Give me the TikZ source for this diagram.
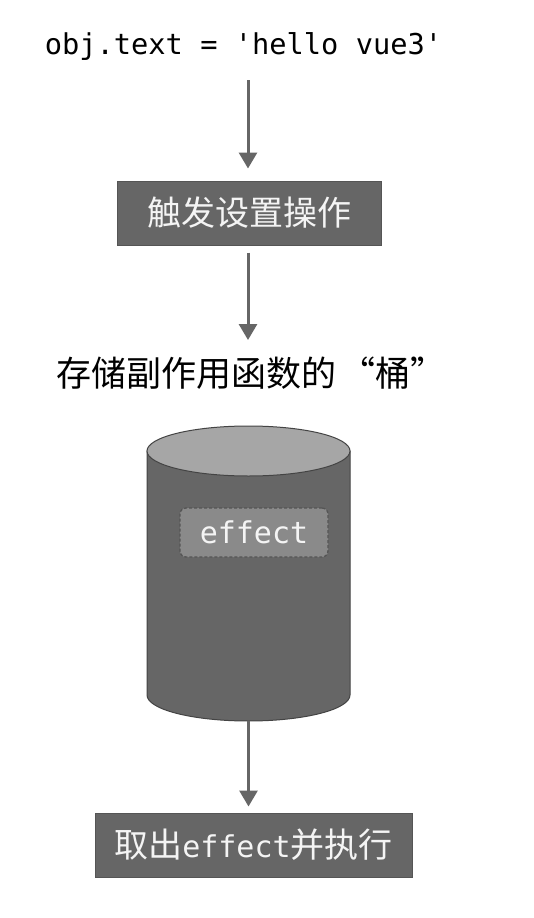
\documentclass[tikz,border=0pt]{standalone}
\usepackage{fontspec}
\setmonofont{DejaVu Sans Mono}
\newfontfamily\cjk{Noto Sans CJK SC}
\usetikzlibrary{arrows.meta}
\definecolor{boxgray}{HTML}{666666}
\definecolor{boxedge}{HTML}{555555}
\definecolor{arrgray}{HTML}{666666}
\definecolor{lidgray}{HTML}{A6A6A6}
\definecolor{cyledge}{HTML}{444444}
\definecolor{effgray}{HTML}{8A8A8A}
\definecolor{efftext}{HTML}{F4F4F4}
\tikzset{
  arr/.style={draw=arrgray, line width=3pt, -{Triangle[width=18pt,length=16pt]}},
  darkbox/.style={draw=boxedge, line width=1pt, fill=boxgray, text=efftext, inner sep=0pt,
    font=\cjk\fontsize{34}{40}\selectfont},
  effbox/.style={draw=boxedge, dashed, dash pattern=on 3pt off 2pt, line width=1.3pt,
    fill=effgray, rounded corners=6pt, text=efftext, inner sep=0pt,
    minimum width=148pt, minimum height=49pt, font=\ttfamily\fontsize{30}{34}\selectfont},
}
\begin{document}
\begin{tikzpicture}[x=1pt,y=-1pt]
\useasboundingbox (0,0) rectangle (534,918);
\fill[white] (0,0) rectangle (534,918);
% title
\node[anchor=base, inner sep=0pt, font=\ttfamily\fontsize{28.7}{32}\selectfont] (title) at (243.5,54) {obj.text = 'hello vue3'};
% box 1
\node[darkbox, minimum width=264pt, minimum height=64pt] (set) at (249,213) {触发设置操作};
% label
\node[inner sep=0pt, font=\cjk\fontsize{35}{40}\selectfont] (label) at (251,373) {存储副作用函数的\kern4pt“桶”};
% cylinder
\coordinate (cyltop) at (248.5,426);
\coordinate (cylbot) at (248.5,721);
\filldraw[fill=boxgray, draw=cyledge, line width=1pt]
  (147,451) -- (147,695) arc[start angle=180, end angle=0, x radius=101.5, y radius=26]
  -- (350,451) -- cycle;
\filldraw[fill=lidgray, draw=cyledge, line width=1pt] (248.5,451) ellipse[x radius=101.5, y radius=25];
\node[effbox] (eff) at (254,532.5) {effect};
% bottom box
\node[darkbox, minimum width=317pt, minimum height=64pt] (run) at (253.5,845) {取出{\ttfamily\fontsize{30}{34}\selectfont effect}并执行};
% arrows
\draw[arr] (248,80) coordinate (a1s) -- ([xshift=-1pt,yshift=12pt]set.north);
\draw[arr] ([xshift=-1pt,yshift=-7pt]set.south) -- (248,340) coordinate (a2e);
\draw[arr] (cylbot) -- ([xshift=-5pt,yshift=6pt]run.north);
\end{tikzpicture}
\end{document}
